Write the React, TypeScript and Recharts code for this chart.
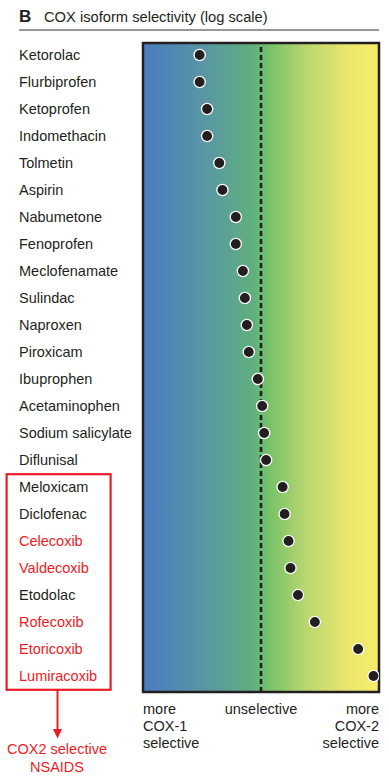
import React from "react";
import {
  ScatterChart,
  Scatter,
  XAxis,
  YAxis,
  ReferenceArea,
  ReferenceLine,
} from "recharts";

const drugNames = [
  "Ketorolac",
  "Flurbiprofen",
  "Ketoprofen",
  "Indomethacin",
  "Tolmetin",
  "Aspirin",
  "Nabumetone",
  "Fenoprofen",
  "Meclofenamate",
  "Sulindac",
  "Naproxen",
  "Piroxicam",
  "Ibuprophen",
  "Acetaminophen",
  "Sodium salicylate",
  "Diflunisal",
  "Meloxicam",
  "Diclofenac",
  "Celecoxib",
  "Valdecoxib",
  "Etodolac",
  "Rofecoxib",
  "Etoricoxib",
  "Lumiracoxib",
];

// log selectivity (COX-2 vs COX-1), 0 = unselective
const selectivity = [
  -1.56, -1.56, -1.37, -1.37, -1.06, -0.98, -0.64, -0.64, -0.46, -0.41, -0.36,
  -0.31, -0.08, 0.03, 0.08, 0.13, 0.55, 0.6, 0.7, 0.75, 0.94, 1.37, 2.47, 2.86,
];

const cox2SelectiveDrugs = [
  "Celecoxib",
  "Valdecoxib",
  "Rofecoxib",
  "Etoricoxib",
  "Lumiracoxib",
];

const xDomain = [-3, 3];

const data = drugNames.map((name, i) => ({
  name,
  idx: i,
  value: selectivity[i],
}));

const FONT = '"Liberation Sans", Arial, Helvetica, sans-serif';
const DARK = "#231f20";
const RED = "#ec1c24";

const DrugTick = (props: any) => {
  const { y, payload } = props;
  const name = drugNames[payload.value];
  if (name === undefined) return null;
  const isRed = cox2SelectiveDrugs.includes(name);
  return (
    <text
      x={19}
      y={y}
      dy="0.36em"
      textAnchor="start"
      fontFamily={FONT}
      fontSize={14.5}
      fill={isRed ? RED : DARK}
    >
      {name}
    </text>
  );
};

const Dot = (props: any) => {
  const { cx, cy } = props;
  return (
    <circle cx={cx} cy={cy} r={5.6} fill={DARK} stroke="#ffffff" strokeWidth={1.3} />
  );
};

export default function App() {
  return (
    <div style={{ position: "absolute", left: 0, top: 0, width: 389, height: 779 }}>
      <div style={{ position: "absolute", left: 0, top: 0 }}>
        <ScatterChart
          width={389}
          height={779}
          margin={{ top: 43, right: 10, bottom: 87, left: 0 }}
        >
          <defs>
            <linearGradient id="coxGrad" x1="0" y1="0" x2="1" y2="0">
              <stop offset="0%" stopColor="#4a7cc1" />
              <stop offset="25%" stopColor="#5895a6" />
              <stop offset="47%" stopColor="#60b07e" />
              <stop offset="53%" stopColor="#76c168" />
              <stop offset="70%" stopColor="#bcd870" />
              <stop offset="88%" stopColor="#ece76d" />
              <stop offset="100%" stopColor="#f8ec6a" />
            </linearGradient>
          </defs>
          <XAxis
            type="number"
            dataKey="value"
            domain={xDomain}
            allowDataOverflow
            hide
          />
          <YAxis
            type="number"
            dataKey="idx"
            domain={[-0.444, 23.59]}
            reversed
            allowDataOverflow
            ticks={data.map((d) => d.idx)}
            interval={0}
            width={143}
            axisLine={false}
            tickLine={false}
            tick={<DrugTick />}
          />
          <ReferenceArea
            x1={xDomain[0]}
            x2={xDomain[1]}
            fill="url(#coxGrad)"
            fillOpacity={1}
            stroke={DARK}
            strokeWidth={2.5}
          />
          <ReferenceLine
            x={0}
            stroke={DARK}
            strokeWidth={2.6}
            strokeDasharray="5 3"
          />
          <Scatter data={data} shape={<Dot />} isAnimationActive={false} />
        </ScatterChart>
      </div>
      <svg
        width={389}
        height={779}
        style={{ position: "absolute", left: 0, top: 0, pointerEvents: "none" }}
      >
        <text x={19} y={22} fontFamily={FONT} fontSize={17} fontWeight="bold" fill={DARK}>
          B
        </text>
        <text x={44} y={22} fontFamily={FONT} fontSize={14.7} fill={DARK}>
          COX isoform selectivity (log scale)
        </text>
        <line x1={19} x2={379} y1={30} y2={30} stroke="#333" strokeWidth={1.2} />

        <g fontFamily={FONT} fontSize={14.5} fill={DARK}>
          <text x={143} y={714} textAnchor="start">more</text>
          <text x={143} y={731} textAnchor="start">COX-1</text>
          <text x={143} y={748} textAnchor="start">selective</text>
          <text x={261} y={714} textAnchor="middle">unselective</text>
          <text x={379} y={714} textAnchor="end">more</text>
          <text x={379} y={731} textAnchor="end">COX-2</text>
          <text x={379} y={748} textAnchor="end">selective</text>
        </g>

        <rect x={6.6} y={474.2} width={104} height={215.6} fill="none" stroke={RED} strokeWidth={2.2} />
        <line x1={57.5} x2={57.5} y1={690} y2={730} stroke={RED} strokeWidth={2} />
        <polygon points="53,729 62,729 57.5,738.5" fill={RED} />
        <g fontFamily={FONT} fontSize={14.5} fill={RED} textAnchor="middle">
          <text x={57} y={754}>COX2 selective</text>
          <text x={57} y={771.5}>NSAIDS</text>
        </g>
      </svg>
    </div>
  );
}
